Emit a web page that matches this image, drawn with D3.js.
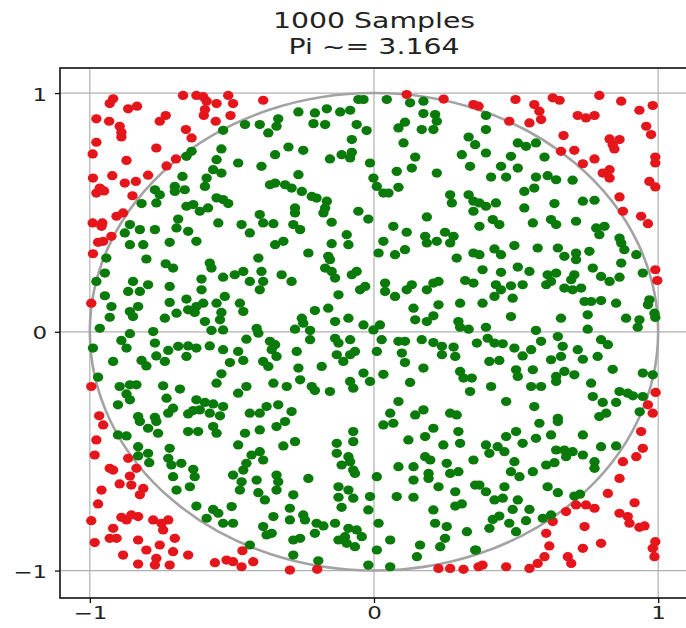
<!DOCTYPE html>
<html>
<head>
<meta charset="utf-8">
<script src="https://cdn.jsdelivr.net/npm/d3@7"></script>
<style>
  body { margin: 0; background: #fff; }
  text { font-family: "DejaVu Sans", sans-serif; fill: #222; }
</style>
</head>
<body>
<div id="chart"></div>
<script>
// ---------- data ----------
const titleLines = ["1000 Samples", "Pi ~= 3.164"];
const tickValues = [-1, 0, 1];

// samples, [x, y]; colour comes from x*x + y*y <= 1
const samplesTop = [
  [-0.918,0.976],[-0.93,0.956],[-0.865,0.934],[-0.834,0.945],[-0.977,0.892],[-0.932,0.882],[-0.895,0.861],[-0.889,0.836],
  [-0.889,0.816],[-0.754,0.882],[-0.733,0.906],[-0.977,0.794],[-0.766,0.77],[-0.99,0.745],[-0.871,0.718],[-0.697,0.724],
  [-0.73,0.695],[-0.989,0.644],[-0.921,0.654],[-0.877,0.623],[-0.838,0.63],[-0.965,0.602],[-0.977,0.581],[-0.95,0.59],
  [-0.85,0.57],[-0.795,0.656],[-0.906,0.484],[-0.883,0.498],[-0.99,0.456],[-0.956,0.456],[-0.959,0.442],[-0.924,0.40],
  [-0.672,0.99],[-0.625,0.99],[-0.601,0.985],[-0.589,0.966],[-0.554,0.956],[-0.513,0.99],[-0.496,0.956],[-0.595,0.931],
  [-0.599,0.906],[-0.557,0.882],[-0.505,0.906],[-0.39,0.97],[-0.662,0.847],[-0.642,0.812],
  [-0.531,0.844],[-0.454,0.868],[-0.402,0.868],[-0.372,0.833],[-0.66,0.735],[-0.642,0.756],[-0.537,0.766],[-0.554,0.721],
  [-0.478,0.707],[-0.396,0.693],[-0.674,0.651],[-0.589,0.644],[-0.566,0.679],[-0.537,0.665],[-0.595,0.609],[-0.771,0.595],
  [-0.754,0.574],[-0.701,0.609],[-0.701,0.588],[-0.666,0.595],[-0.766,0.54],[-0.818,0.537],[-0.66,0.526],[-0.636,0.533],
  [-0.613,0.505],[-0.584,0.519],[-0.554,0.561],[-0.531,0.554],[-0.513,0.537],[-0.402,0.491],[-0.39,0.456],[-0.859,0.449],
  [-0.824,0.428],[-0.771,0.428],[-0.689,0.472],[-0.695,0.435],[-0.654,0.421],[-0.548,0.456],[-0.466,0.449],[-0.437,0.414],
  [-0.877,0.414],[-0.366,0.616],
  [-0.055,0.973],[-0.037,0.973],[0.045,0.973],[0.127,0.959],[0.174,0.966],[0.115,0.994],[0.245,0.975],[0.35,0.952],
  [0.368,0.945],[-0.266,0.921],[-0.208,0.917],[-0.166,0.934],[-0.119,0.921],[-0.084,0.928],[-0.337,0.892],[-0.343,0.861],
  [-0.213,0.872],[-0.172,0.868],[-0.061,0.868],[-0.026,0.843],[0.086,0.854],[0.109,0.878],[0.168,0.847],[0.174,0.914],
  [0.215,0.91],[0.221,0.882],[0.209,0.847],[-0.078,0.805],[0.333,0.816],[0.356,0.784],[-0.301,0.774],[-0.249,0.76],
  [-0.348,0.742],[-0.114,0.742],[-0.078,0.752],[-0.084,0.728],[-0.155,0.724],[-0.014,0.707],[0.104,0.791],[0.145,0.732],
  [0.133,0.686],[0.08,0.672],[0.221,0.665],[0.309,0.742],[0.338,0.693],[-0.266,0.658],[-0.348,0.623],[-0.313,0.616],
  [-0.29,0.602],[-0.254,0.588],[-0.002,0.644],[0.01,0.609],[0.033,0.581],[0.051,0.581],[0.086,0.605],[-0.219,0.567],
  [-0.202,0.56],[-0.166,0.547],[0.268,0.574],[0.274,0.54],[0.333,0.574],[0.35,0.547],[0.35,0.505],[-0.278,0.519],
  [-0.278,0.498],[-0.178,0.498],[-0.172,0.519],[-0.149,0.459],[-0.055,0.505],[-0.02,0.472],[-0.354,0.453],[-0.284,0.449],
  [-0.26,0.428],[0.186,0.481],[-0.096,0.407],[0.068,0.442],[0.115,0.417],[0.18,0.40],[0.25,0.417],[0.28,0.40],
  [0.498,0.973],[0.564,0.952],[0.582,0.924],[0.588,0.889],[0.547,0.875],[0.629,0.98],[0.653,0.97],[0.793,0.99],
  [0.87,0.966],[0.934,0.928],[0.981,0.948],[0.717,0.906],[0.746,0.896],[0.776,0.906],[0.476,0.882],[0.958,0.861],
  [0.975,0.826],[0.667,0.822],[0.705,0.76],[0.658,0.756],[0.735,0.704],[0.776,0.724],[0.829,0.808],[0.84,0.784],
  [0.864,0.805],[0.846,0.766],[0.99,0.732],[0.99,0.707],[0.805,0.665],[0.829,0.679],[0.829,0.644],[0.969,0.63],
  [0.99,0.607],[0.864,0.565],[0.876,0.505],[0.94,0.484],[0.964,0.453],
  [0.394,0.906],[0.394,0.847],[0.394,0.749],[0.506,0.791],[0.535,0.777],[0.57,0.791],[0.482,0.735],[0.6,0.732],
  [0.447,0.693],[0.506,0.686],[0.412,0.648],[0.465,0.648],[0.57,0.648],[0.611,0.654],[0.641,0.637],[0.699,0.635],
  [0.529,0.588],[0.564,0.602],[0.371,0.54],[0.394,0.526],[0.429,0.54],[0.529,0.519],[0.635,0.537],[0.735,0.547],
  [0.776,0.551],[0.418,0.47],[0.441,0.449],[0.371,0.442],[0.559,0.456],[0.623,0.47],[0.641,0.449],[0.711,0.463],
  [0.782,0.435],[0.811,0.442],[0.793,0.407],[0.864,0.393]
];

const samplesMiddle = [
  [-0.971,0.375],[-0.953,0.379],[-0.989,0.327],[-0.995,0.12],[-0.995,-0.229],[-0.967,-0.352],
  [-0.859,0.365],[-0.812,0.365],[-0.719,0.375],[-0.625,0.379],[-0.942,0.309],[-0.801,0.305],[-0.733,0.285],[-0.707,0.267],
  [-0.578,0.288],[-0.572,0.267],[-0.407,0.309],[-0.947,0.246],[-0.977,0.211],[-0.848,0.211],[-0.795,0.197],[-0.865,0.169],
  [-0.824,0.169],[-0.719,0.19],[-0.607,0.221],[-0.531,0.229],[-0.49,0.239],[-0.46,0.253],[-0.396,0.253],[-0.437,0.211],
  [-0.39,0.211],[-0.402,0.176],[-0.947,0.151],[-0.924,0.106],[-0.93,0.061],[-0.859,0.085],[-0.848,0.064],[-0.83,0.106],
  [-0.736,0.057],[-0.719,0.123],[-0.695,0.078],[-0.66,0.137],[-0.654,0.092],[-0.631,0.081],[-0.625,0.106],[-0.601,0.12],
  [-0.554,0.12],[-0.525,0.148],[-0.537,0.081],[-0.542,0.05],[-0.595,0.043],[-0.472,0.12],[-0.46,0.085],[-0.607,0.176],
  [-0.965,0.015],[-0.859,-0.008],[-0.777,0.001],[-0.572,0.006],[-0.531,0.008],[-0.413,0.015],[-0.407,-0.006],[-0.449,-0.031],
  [-0.989,-0.068],[-0.889,-0.036],[-0.871,-0.068],[-0.771,-0.047],[-0.724,-0.078],[-0.689,-0.061],[-0.654,-0.059],[-0.625,-0.068],
  [-0.66,-0.103],[-0.766,-0.101],[-0.578,-0.059],[-0.531,-0.075],[-0.478,-0.082],[-0.507,-0.129],[-0.46,-0.12],[-0.39,-0.124],
  [-0.372,-0.145],[-0.918,-0.124],[-0.818,-0.12],[-0.801,-0.143],[-0.736,-0.124],[-0.971,-0.19],[-0.895,-0.229],[-0.859,-0.222],
  [-0.836,-0.222],[-0.871,-0.26],[-0.901,-0.306],[-0.859,-0.285],[-0.742,-0.226],[-0.683,-0.24],[-0.73,-0.278],[-0.707,-0.32],
  [-0.724,-0.341],[-0.625,-0.285],[-0.595,-0.296],[-0.566,-0.302],[-0.531,-0.313],[-0.613,-0.327],[-0.578,-0.341],[-0.542,-0.352],
  [-0.554,-0.215],[-0.537,-0.176],[-0.478,-0.257],[-0.449,-0.229],[-0.83,-0.355],[-0.771,-0.358],[-0.654,-0.344],[-0.636,-0.33],
  [-0.437,-0.341],[-0.402,-0.341],[-0.378,-0.313],
  [-0.348,0.365],[-0.319,0.379],[-0.149,0.369],[-0.09,0.365],[-0.231,0.33],[-0.161,0.316],[-0.155,0.302],[-0.172,0.267],
  [-0.149,0.253],[-0.137,0.225],[-0.078,0.239],[-0.061,0.253],[-0.325,0.239],[-0.29,0.211],[-0.125,0.155],[-0.049,0.176],
  [-0.031,0.19],[-0.208,0.089],[-0.161,0.099],[-0.254,0.057],[-0.249,0.036],[-0.278,0.011],[-0.225,0.006],[-0.137,0.043],
  [-0.09,0.057],[-0.037,0.029],[0.016,0.33],[0.033,0.379],[0.074,0.323],[0.109,0.344],[0.186,0.372],[0.221,0.379],
  [0.268,0.372],[0.291,0.309],[0.35,0.33],[0.039,0.204],[0.039,0.169],[0.074,0.148],[0.115,0.176],[0.133,0.197],
  [0.186,0.176],[0.209,0.204],[0.227,0.211],[0.321,0.215],[0.35,0.204],[0.139,0.099],[0.227,0.113],[0.303,0.12],
  [0.021,0.029],[-0.002,0.008],[0.145,0.05],[0.186,0.043],[0.209,0.067],[0.297,0.043],[0.303,0.019],[0.333,0.011],
  [-0.366,-0.04],[-0.348,-0.054],[-0.343,-0.103],[-0.36,-0.075],[-0.272,-0.082],[-0.225,-0.033],[-0.137,-0.027],[-0.125,-0.047],
  [-0.084,-0.033],[-0.131,-0.096],[-0.108,-0.124],[-0.084,-0.096],[-0.067,-0.082],[0.027,-0.033],[0.01,-0.082],[0.086,-0.04],
  [0.109,-0.04],[0.168,-0.033],[0.209,-0.045],[0.239,-0.061],[0.28,-0.064],[0.362,-0.047],[0.098,-0.089],[0.109,-0.129],
  [0.239,-0.096],[0.286,-0.103],[-0.266,-0.152],[-0.184,-0.145],[-0.037,-0.173],[-0.014,-0.208],[-0.084,-0.208],[-0.073,-0.236],
  [-0.354,-0.215],[-0.307,-0.229],[-0.26,-0.201],[-0.219,-0.229],[-0.208,-0.246],[-0.155,-0.25],[0.033,-0.178],[0.127,-0.212],
  [0.174,-0.152],[0.303,-0.166],[0.315,-0.194],[0.338,-0.25],[0.344,-0.194],[-0.337,-0.306],[-0.29,-0.334],[0.086,-0.292],
  [0.057,-0.341],[0.145,-0.348],[0.174,-0.327],[0.268,-0.341],[0.291,-0.348],
  [0.99,0.26],[0.997,0.215],[0.991,-0.254],[0.964,-0.306],[0.981,-0.341],
  [0.371,0.323],[0.424,0.347],[0.447,0.323],[0.494,0.361],[0.576,0.351],[0.647,0.351],[0.67,0.316],[0.711,0.33],
  [0.711,0.302],[0.758,0.337],[0.87,0.372],[0.881,0.344],[0.923,0.323],[0.382,0.26],[0.447,0.249],[0.506,0.271],
  [0.547,0.253],[0.611,0.239],[0.641,0.246],[0.623,0.211],[0.606,0.197],[0.705,0.239],[0.694,0.218],[0.67,0.183],
  [0.699,0.176],[0.729,0.183],[0.77,0.267],[0.799,0.232],[0.829,0.211],[0.864,0.229],[0.87,0.288],[0.946,0.246],
  [0.429,0.197],[0.447,0.176],[0.482,0.193],[0.523,0.197],[0.488,0.141],[0.382,0.12],[0.424,0.148],[0.741,0.127],
  [0.764,0.127],[0.799,0.131],[0.852,0.12],[0.752,0.071],[0.658,0.057],[0.482,0.064],[0.887,0.057],[0.934,0.05],
  [0.928,0.019],[0.969,0.134],[0.964,0.113],[0.987,0.078],[0.99,0.06],[0.394,0.019],[0.57,0.006],[0.752,0.011],
  [0.4,-0.027],[0.424,-0.047],[0.453,-0.05],[0.494,-0.068],[0.523,-0.101],[0.553,-0.075],[0.588,-0.04],[0.647,-0.02],
  [0.664,-0.061],[0.717,-0.075],[0.658,-0.103],[0.623,-0.117],[0.735,-0.115],[0.787,-0.103],[0.799,-0.033],[0.823,-0.054],
  [0.406,-0.124],[0.441,-0.12],[0.5,-0.159],[0.506,-0.187],[0.559,-0.159],[0.641,-0.187],[0.641,-0.208],[0.67,-0.166],
  [0.705,-0.18],[0.764,-0.215],[0.84,-0.157],[0.946,-0.173],[0.981,-0.18],[0.412,-0.229],[0.553,-0.229],[0.588,-0.229],
  [0.465,-0.292],[0.564,-0.313],[0.77,-0.271],[0.805,-0.296],[0.852,-0.296],[0.864,-0.25],[0.893,-0.257],[0.911,-0.268],
  [0.946,-0.271],[0.935,-0.335],[0.817,-0.341],[0.793,-0.355],[0.647,-0.362]
];

const samplesBottom = [
  [-0.953,-0.39],[-0.977,-0.453],[-0.983,-0.516],[-0.93,-0.572],[-0.918,-0.579],[-0.865,-0.53],[-0.836,-0.572],[-0.859,-0.604],
  [-0.895,-0.637],[-0.854,-0.642],[-0.812,-0.656],[-0.824,-0.683],[-0.959,-0.663],[-0.971,-0.721],[-0.995,-0.791],[-0.889,-0.777],
  [-0.871,-0.788],[-0.854,-0.767],[-0.83,-0.774],[-0.777,-0.788],[-0.748,-0.802],[-0.724,-0.788],[-0.742,-0.83],[-0.918,-0.823],
  [-0.983,-0.883],[-0.93,-0.865],[-0.906,-0.865],[-0.83,-0.872],[-0.754,-0.893],[-0.701,-0.865],[-0.801,-0.914],[-0.707,-0.921],
  [-0.654,-0.935],[-0.883,-0.935],[-0.83,-0.973],[-0.766,-0.949],[-0.771,-0.977],[-0.719,-0.977],[-0.56,-0.967],[-0.519,-0.956],
  [-0.496,-0.963],[-0.466,-0.984],[-0.425,-0.963],[-0.463,-0.917],
  [-0.824,-0.376],[-0.766,-0.376],[-0.795,-0.404],[-0.76,-0.425],[-0.654,-0.418],[-0.619,-0.418],[-0.566,-0.397],[-0.554,-0.425],
  [-0.454,-0.425],[-0.402,-0.411],[-0.901,-0.432],[-0.871,-0.436],[-0.83,-0.481],[-0.83,-0.52],[-0.795,-0.509],[-0.791,-0.548],
  [-0.719,-0.488],[-0.724,-0.53],[-0.713,-0.558],[-0.678,-0.551],[-0.636,-0.576],[-0.631,-0.607],[-0.478,-0.474],[-0.449,-0.551],
  [-0.431,-0.516],[-0.402,-0.502],[-0.39,-0.537],[-0.46,-0.579],[-0.496,-0.6],[-0.466,-0.628],[-0.472,-0.663],[-0.413,-0.621],
  [-0.407,-0.674],[-0.384,-0.704],[-0.707,-0.607],[-0.695,-0.663],[-0.648,-0.649],[-0.625,-0.73],[-0.566,-0.744],[-0.548,-0.76],
  [-0.589,-0.781],[-0.501,-0.732],[-0.531,-0.802],[-0.496,-0.802],[-0.39,-0.816],[-0.378,-0.851],[-0.437,-0.893],
  [-0.296,-0.998],[-0.2,-0.995],[0.227,-0.991],[0.268,-0.991],[0.315,-0.995],[0.368,-0.984],
  [-0.343,-0.397],[-0.313,-0.376],[-0.319,-0.478],[-0.278,-0.46],[-0.131,-0.467],[-0.073,-0.418],[-0.073,-0.46],[-0.131,-0.509],
  [-0.09,-0.523],[-0.084,-0.544],[-0.114,-0.558],[-0.073,-0.579],[-0.067,-0.593],[0.033,-0.39],[0.068,-0.383],[0.121,-0.453],
  [0.18,-0.439],[0.209,-0.404],[0.297,-0.418],[0.303,-0.467],[0.244,-0.474],[0.35,-0.537],[-0.343,-0.6],[-0.337,-0.628],
  [-0.343,-0.663],[-0.231,-0.614],[0.086,-0.565],[0.139,-0.565],[0.139,-0.621],[0.18,-0.523],[0.198,-0.537],[0.192,-0.593],
  [0.192,-0.614],[0.256,-0.551],[0.268,-0.593],[0.297,-0.586],[0.227,-0.649],[0.286,-0.67],[0.356,-0.642],[0.01,-0.607],
  [-0.284,-0.683],[-0.125,-0.649],[-0.125,-0.693],[-0.09,-0.663],[-0.073,-0.697],[-0.014,-0.69],[-0.114,-0.735],[-0.02,-0.746],
  [0.08,-0.69],[0.139,-0.693],[-0.296,-0.739],[-0.296,-0.788],[-0.249,-0.767],[-0.243,-0.788],[-0.202,-0.802],[-0.178,-0.813],
  [-0.137,-0.802],[-0.09,-0.823],[-0.061,-0.83],[-0.043,-0.858],[-0.102,-0.858],[-0.125,-0.872],[-0.067,-0.9],[-0.096,-0.886],
  [-0.354,-0.774],[-0.36,-0.844],[-0.284,-0.872],[-0.26,-0.865],[-0.208,-0.844],[0.209,-0.746],[0.215,-0.802],[0.256,-0.816],
  [0.286,-0.73],[0.309,-0.721],[0.327,-0.837],[0.25,-0.865],[0.233,-0.9],[0.016,-0.802],[0.057,-0.872],[0.162,-0.893],
  [0.151,-0.942],[0.356,-0.914],[-0.284,-0.935],[-0.196,-0.959],[-0.02,-0.977],[0.057,-0.984],[0.01,-0.914],
  [0.94,-0.418],[0.946,-0.488],[0.923,-0.523],[0.876,-0.544],[0.864,-0.614],[0.823,-0.677],[0.917,-0.716],[0.711,-0.725],
  [0.746,-0.725],[0.776,-0.739],[0.676,-0.753],[0.864,-0.76],[0.893,-0.774],[0.899,-0.802],[0.934,-0.819],[0.952,-0.813],
  [0.629,-0.795],[0.741,-0.816],[0.606,-0.844],[0.799,-0.886],[0.617,-0.897],[0.735,-0.907],[0.99,-0.879],[0.981,-0.907],
  [0.987,-0.942],[0.6,-0.942],[0.576,-0.97],[0.682,-0.942],[0.694,-0.97],[0.382,-0.977],[0.465,-0.984],[0.547,-0.991],
  [0.5,-0.418],[0.582,-0.383],[0.647,-0.376],[0.465,-0.439],[0.57,-0.446],[0.623,-0.432],[0.735,-0.432],[0.394,-0.474],
  [0.406,-0.509],[0.435,-0.481],[0.459,-0.502],[0.523,-0.467],[0.641,-0.495],[0.67,-0.495],[0.699,-0.502],[0.676,-0.523],
  [0.735,-0.516],[0.799,-0.481],[0.852,-0.478],[0.494,-0.544],[0.482,-0.586],[0.512,-0.607],[0.559,-0.586],[0.606,-0.558],
  [0.635,-0.548],[0.776,-0.544],[0.776,-0.572],[0.371,-0.642],[0.394,-0.67],[0.459,-0.649],[0.611,-0.649],[0.647,-0.674],
  [0.705,-0.688],[0.725,-0.68],[0.424,-0.704],[0.453,-0.697],[0.506,-0.704],[0.488,-0.744],[0.547,-0.744],[0.418,-0.786],
  [0.441,-0.772],[0.476,-0.802],[0.5,-0.837],[0.535,-0.791],[0.594,-0.781],[0.623,-0.767],[0.406,-0.823],[0.359,-0.914]
];

const samples = samplesTop.concat(samplesMiddle, samplesBottom);

// ---------- layout ----------
const width = 686;
const height = 628;
const stretch = 1.35; // the picture is wider than it is tall, text included

const svg = d3.select("#chart").append("svg")
    .attr("width", width)
    .attr("height", height);

const x = d3.scaleLinear().domain([-1.105, 1.105]).range([60, 688]);
const y = d3.scaleLinear().domain([-1.115, 1.105]).range([598, 68]);

svg.append("clipPath").attr("id", "plotClip")
  .append("rect")
    .attr("x", x.range()[0]).attr("y", y.range()[1])
    .attr("width", x.range()[1] - x.range()[0])
    .attr("height", y.range()[0] - y.range()[1]);

const plot = svg.append("g").attr("clip-path", "url(#plotClip)");

// grid
plot.selectAll(".vgrid").data(tickValues).join("line")
    .attr("x1", d => x(d)).attr("x2", d => x(d))
    .attr("y1", y.range()[0]).attr("y2", y.range()[1])
    .attr("stroke", "#b0b0b0").attr("stroke-width", 1.2);
plot.selectAll(".hgrid").data(tickValues).join("line")
    .attr("y1", d => y(d)).attr("y2", d => y(d))
    .attr("x1", x.range()[0]).attr("x2", x.range()[1])
    .attr("stroke", "#b0b0b0").attr("stroke-width", 1.2);

// unit circle
plot.append("ellipse")
    .attr("cx", x(0)).attr("cy", y(0))
    .attr("rx", x(1) - x(0)).attr("ry", y(0) - y(1))
    .attr("fill", "none")
    .attr("stroke", "#a3a3a3")
    .attr("stroke-width", 2.6);

// samples
plot.selectAll(".pt").data(samples).join("ellipse")
    .attr("cx", d => x(d[0]))
    .attr("cy", d => y(d[1]))
    .attr("rx", 5.2).attr("ry", 4.6)
    .attr("fill", d => (d[0] * d[0] + d[1] * d[1] <= 1) ? "#0a7a0a" : "#e5161b");

// frame
svg.append("rect")
    .attr("x", x.range()[0]).attr("y", y.range()[1])
    .attr("width", x.range()[1] - x.range()[0])
    .attr("height", y.range()[0] - y.range()[1])
    .attr("fill", "none").attr("stroke", "#111").attr("stroke-width", 1.6);

// axes
const fmt = d3.format("d");
const yAxis = svg.append("g")
    .attr("transform", `translate(${x.range()[0]},0)`)
    .call(d3.axisLeft(y).tickValues(tickValues).tickSize(5).tickFormat(fmt));
const xAxis = svg.append("g")
    .attr("transform", `translate(0,${y.range()[0]})`)
    .call(d3.axisBottom(x).tickValues(tickValues).tickSize(5).tickFormat(fmt));

[yAxis, xAxis].forEach(g => {
  g.select(".domain").remove();
  g.selectAll(".tick line").attr("stroke", "#111").attr("stroke-width", 1.3);
  g.selectAll(".tick text")
    .style("font-family", "DejaVu Sans, sans-serif")
    .style("font-size", "17px")
    .attr("fill", "#222");
});
yAxis.selectAll(".tick text")
    .attr("x", null).attr("dy", "0.35em")
    .attr("transform", `translate(-13,1) scale(${stretch},1)`);
xAxis.selectAll(".tick text")
    .attr("y", null).attr("dy", "0.71em")
    .attr("transform", `translate(0,9) scale(${stretch},1)`);

// title
const title = svg.append("g")
    .attr("transform", `translate(${(x.range()[0] + x.range()[1]) / 2},0) scale(${stretch},1)`);
title.selectAll("text").data(titleLines).join("text")
    .attr("x", 0)
    .attr("y", (d, i) => 28 + i * 26)
    .attr("text-anchor", "middle")
    .style("font-size", "21px")
    .text(d => d);
</script>
</body>
</html>
